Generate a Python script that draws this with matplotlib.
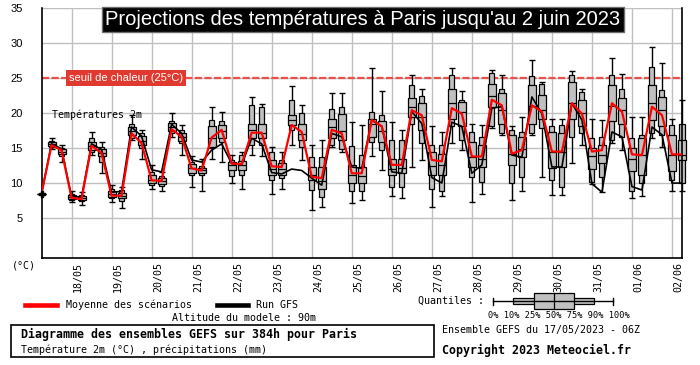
import numpy as np
import matplotlib.pyplot as plt
from matplotlib.patches import Rectangle
from matplotlib.lines import Line2D
from matplotlib.transforms import ScaledTranslation, blended_transform_factory

# GEFS run 17/05/2023 06Z, one step every 6 h (0 .. 384 h)
hours = np.arange(65) * 6

t_min = [8.5, 14.9, 13.0, 7.3, 6.8, 14.0, 11.5, 7.3, 6.5, 16.1, 13.5, 9.1, 8.8, 16.6, 14.0, 9.5,
         8.8, 13.5, 13.0, 10.0, 9.2, 14.0, 13.8, 8.5, 9.2, 15.4, 13.3, 6.1, 6.6, 15.2, 14.5, 7.1,
         7.6, 13.8, 11.9, 8.1, 7.8, 12.3, 13.3, 6.6, 8.1, 15.7, 14.7, 7.3, 8.5, 17.8, 16.9, 7.6,
         8.9, 16.8, 10.9, 8.3, 8.3, 12.8, 15.4, 9.9, 8.7, 15.7, 14.7, 7.8, 8.1, 16.5, 15.2, 8.8, 8.8]
t_p10 = [8.5, 15.1, 13.8, 7.6, 7.4, 14.5, 13.0, 7.8, 7.5, 16.5, 15.0, 9.7, 9.6, 17.1, 15.7, 11.1,
         11.1, 15.0, 15.9, 11.0, 11.1, 15.4, 15.4, 10.4, 10.7, 17.6, 15.2, 9.0, 8.0, 15.4, 14.9, 8.8,
         8.8, 15.9, 14.7, 9.5, 9.5, 18.5, 15.7, 9.2, 8.8, 18.1, 16.1, 10.9, 10.2, 18.1, 17.1, 10.0,
         10.9, 17.1, 17.8, 10.4, 9.5, 16.6, 17.1, 10.2, 10.9, 16.1, 16.6, 8.8, 10.0, 17.1, 16.9, 10.4, 10.0]
t_p25 = [8.5, 15.3, 14.2, 7.7, 7.6, 14.7, 13.9, 8.0, 7.8, 16.8, 15.4, 10.0, 9.9, 17.5, 16.0, 11.5,
         11.4, 15.2, 16.5, 11.8, 11.8, 16.5, 16.5, 11.1, 11.2, 18.3, 16.1, 10.4, 9.2, 16.4, 16.1, 10.0,
         10.0, 16.6, 15.9, 11.1, 11.4, 19.5, 17.6, 11.1, 11.1, 19.2, 18.1, 12.3, 12.3, 20.9, 18.5, 12.6,
         13.7, 18.5, 19.2, 12.1, 12.3, 19.2, 18.1, 12.0, 12.8, 18.8, 18.5, 11.7, 11.1, 19.0, 18.1, 11.7, 13.3]
t_p50 = [8.5, 15.6, 14.5, 8.0, 7.8, 15.3, 14.3, 8.4, 8.2, 17.5, 16.0, 10.5, 10.3, 18.0, 16.6, 12.2,
         11.8, 16.4, 17.5, 12.6, 12.6, 17.6, 17.2, 12.0, 12.0, 19.0, 17.0, 11.2, 10.3, 18.0, 17.5, 11.2,
         11.0, 18.4, 17.5, 12.0, 12.2, 20.8, 19.5, 12.5, 12.6, 21.5, 20.2, 13.7, 13.5, 22.5, 20.5, 14.2,
         14.8, 21.0, 20.5, 14.5, 14.5, 21.5, 20.0, 13.8, 14.0, 21.0, 20.5, 13.5, 14.0, 21.5, 20.5, 14.0, 14.0]
t_p75 = [8.5, 15.9, 14.8, 8.3, 8.1, 15.9, 14.8, 8.9, 8.6, 18.0, 16.7, 11.2, 10.7, 18.6, 17.2, 12.7,
         12.2, 18.1, 18.3, 13.0, 13.2, 18.4, 18.5, 13.3, 12.8, 19.7, 18.5, 12.3, 12.3, 19.2, 19.9, 12.6,
         12.3, 19.2, 18.8, 13.5, 13.5, 22.1, 21.4, 14.5, 14.2, 23.5, 21.6, 15.9, 15.4, 24.2, 22.8, 16.9,
         16.6, 24.0, 22.6, 17.3, 17.1, 24.5, 21.9, 15.0, 15.4, 24.0, 22.1, 15.0, 16.4, 24.0, 22.3, 16.9, 16.1]
t_p90 = [8.5, 16.0, 15.0, 8.5, 8.3, 16.5, 15.2, 9.2, 9.0, 18.4, 17.1, 11.6, 11.0, 18.9, 17.6, 13.0,
         12.4, 19.0, 18.8, 13.3, 14.0, 21.1, 20.8, 14.5, 13.3, 21.9, 20.0, 13.7, 13.7, 20.6, 20.9, 15.3,
         14.0, 20.2, 19.7, 16.1, 16.1, 24.0, 22.5, 15.4, 15.4, 25.4, 21.9, 17.3, 16.6, 25.7, 23.5, 17.6,
         17.3, 25.3, 24.2, 18.1, 18.3, 25.4, 23.0, 16.4, 16.6, 25.4, 23.5, 16.4, 16.8, 26.6, 23.3, 18.3, 18.5]
t_max = [8.5, 16.4, 15.4, 8.8, 8.7, 17.3, 15.9, 9.7, 9.4, 19.7, 17.6, 12.6, 11.6, 20.0, 18.3, 13.8,
         13.5, 20.9, 20.2, 14.0, 14.5, 22.3, 21.3, 15.2, 14.5, 23.8, 21.1, 15.4, 16.1, 22.8, 22.8, 18.7,
         18.3, 26.4, 23.1, 18.7, 17.6, 25.4, 23.5, 18.1, 17.3, 26.4, 23.1, 18.5, 18.3, 26.1, 25.4, 18.1,
         19.5, 27.6, 24.4, 19.2, 19.2, 26.0, 23.5, 19.2, 19.0, 27.8, 25.6, 19.5, 19.5, 29.5, 27.1, 19.2, 21.9]
t_mean = [8.5, 15.4, 14.7, 7.9, 7.7, 15.3, 14.3, 8.2, 8.2, 17.1, 15.7, 10.4, 10.3, 17.7, 16.6, 12.1,
          11.8, 16.5, 17.6, 12.8, 12.7, 17.2, 17.2, 12.4, 12.3, 18.3, 17.3, 10.9, 10.7, 17.6, 17.1, 11.4,
          11.4, 19.0, 18.1, 12.6, 12.6, 20.4, 19.7, 13.3, 13.1, 20.7, 19.9, 13.8, 13.8, 21.9, 21.1, 14.2,
          14.7, 21.1, 20.2, 14.5, 14.5, 21.4, 19.9, 14.5, 14.7, 21.4, 20.2, 14.1, 14.0, 20.9, 19.7, 14.1, 14.1]
t_gfs = [8.5, 15.6, 14.9, 8.1, 8.0, 15.6, 14.8, 8.7, 8.8, 18.0, 16.7, 11.9, 11.6, 18.4, 17.1, 13.3,
         13.0, 14.7, 15.6, 12.8, 12.6, 16.4, 15.6, 11.5, 11.3, 12.0, 11.8, 10.7, 9.7, 17.1, 16.6, 12.3,
         12.1, 19.0, 18.1, 11.6, 11.4, 20.2, 18.5, 10.8, 10.0, 18.7, 18.1, 11.4, 12.6, 20.7, 20.9, 14.0,
         13.7, 22.3, 19.9, 12.3, 12.3, 21.4, 19.0, 9.9, 8.7, 17.3, 16.6, 9.5, 9.0, 18.0, 16.9, 10.0, 10.0]

day_hours = np.arange(18, 385, 24)
day_labels = ['18/05', '19/05', '20/05', '21/05', '22/05', '23/05', '24/05', '25/05',
              '26/05', '27/05', '28/05', '29/05', '30/05', '31/05', '01/06', '02/06']

MONO = 'DejaVu Sans Mono'
SANS = 'Liberation Sans'
W, H = 700, 365


def fx(x):
    return x / W


def fy(y):
    return 1 - y / H


fig = plt.figure(figsize=(7, 3.65), dpi=100)
ax = fig.add_axes([fx(41.5), fy(258), (682 - 41.5) / W, (258 - 8) / H])
ax.set_xlim(0, 384)
ax.set_ylim(-0.7, 35)

# grid
ax.set_yticks([5, 10, 15, 20, 25, 30, 35])
ax.set_xticks(day_hours, day_labels)
ax.grid(True, color='#c0c0c0', lw=1.0)
ax.set_axisbelow(True)
ax.tick_params(axis='y', length=0, pad=13.5, labelsize=8)
ax.tick_params(axis='x', length=0, pad=3, labelsize=7.2, labelrotation=90)
for lab in ax.get_yticklabels():
    lab.set_fontfamily(SANS)
for lab in ax.get_xticklabels():
    lab.set_fontfamily(MONO)
    lab.set_transform(lab.get_transform() + ScaledTranslation(0.065, 0, fig.dpi_scale_trans))
ax.spines['top'].set_visible(False)
for s in ['left', 'bottom', 'right']:
    ax.spines[s].set_linewidth(1.2)

# heat threshold
ax.axhline(25, color='#e85149', lw=1.6, ls=(0, (3.2, 1.1)), zorder=1.5)
bt = blended_transform_factory(ax.transAxes, ax.transData)
ax.text(0.043, 25, 'seuil de chaleur (25°C)', transform=bt, color='white', fontsize=8,
        family=SANS, va='center', ha='left', zorder=6,
        bbox=dict(boxstyle='square,pad=0.25', fc='#e03a30', ec='none'))
ax.text(0.016, 19.7, 'Températures 2m', transform=bt, fontsize=7.2, family=MONO,
        va='center', ha='left')

# ensemble quantiles
t_min, t_p10, t_p25, t_p50, t_p75, t_p90, t_max = map(
    np.array, (t_min, t_p10, t_p25, t_p50, t_p75, t_p90, t_max))
ax.vlines(hours, t_min, t_max, color='black', lw=1.0, zorder=2, clip_on=False)
ax.hlines(t_min, hours - 1.8, hours + 1.8, color='black', lw=1.0, zorder=2, clip_on=False)
ax.hlines(t_max, hours - 1.8, hours + 1.8, color='black', lw=1.0, zorder=2, clip_on=False)
ax.bar(hours, t_p90 - t_p10, bottom=t_p10, width=3.0, color='#c0c0c0', edgecolor='black',
       lw=0.9, zorder=2.2, clip_on=False)
ax.bar(hours, t_p75 - t_p25, bottom=t_p25, width=4.8, color='#c0c0c0', edgecolor='black',
       lw=0.9, zorder=2.4, clip_on=False)
ax.hlines(t_p50, hours - 2.4, hours + 2.4, color='black', lw=0.9, zorder=2.5, clip_on=False)

ax.plot(hours, t_gfs, color='black', lw=1.2, zorder=4)
ax.plot(hours, t_mean, color='#ff0000', lw=1.6, zorder=5)
ax.plot(hours[:1], t_gfs[:1], marker='P', color='black', ms=5, zorder=5, clip_on=False)

# title
fig.text(fx(363), fy(19.5), "Projections des températures à Paris jusqu'au 2 juin 2023",
         color='white', fontsize=14.5, family=SANS, ha='center', va='center',
         bbox=dict(boxstyle='square,pad=0.15', fc='black', ec='#707070', lw=1))

fig.text(fx(12), fy(266), '(°C)', fontsize=7.2, family=MONO, va='center')

# legend under the chart
fig.add_artist(Line2D([fx(25), fx(57)], [fy(305)] * 2, color='#ff0000', lw=3.3,
                      transform=fig.transFigure))
fig.text(fx(66), fy(305), 'Moyenne des scénarios', fontsize=7.2, family=MONO, va='center')
fig.add_artist(Line2D([fx(217), fx(248)], [fy(305)] * 2, color='black', lw=3.3,
                      transform=fig.transFigure))
fig.text(fx(256), fy(305), 'Run GFS', fontsize=7.2, family=MONO, va='center')
fig.text(fx(172), fy(318), 'Altitude du modele : 90m', fontsize=7.2, family=MONO, va='center')

fig.text(fx(418), fy(300.5), 'Quantiles :', fontsize=7.2, family=MONO, va='center')
tf = fig.transFigure
fig.add_artist(Line2D([fx(493), fx(613)], [fy(301)] * 2, color='black', lw=1, transform=tf))
for xc in (493, 613):
    fig.add_artist(Line2D([fx(xc)] * 2, [fy(297.5), fy(304.5)], color='black', lw=1, transform=tf))
fig.add_artist(Rectangle((fx(513), fy(304)), (594 - 513) / W, 6 / H, fc='#c0c0c0', ec='black',
                         lw=0.9, transform=tf))
fig.add_artist(Rectangle((fx(534), fy(309)), 40 / W, 16 / H, fc='#c0c0c0', ec='black',
                         lw=0.9, transform=tf))
fig.add_artist(Line2D([fx(554)] * 2, [fy(293), fy(309)], color='black', lw=0.9, transform=tf))
fig.text(fx(488), fy(315.5), '0% 10% 25% 50% 75% 90% 100%', fontsize=6.2, family=MONO,
         va='center')

# info box
fig.add_artist(Rectangle((fx(11), fy(357)), (434 - 11) / W, (357 - 325) / H, fill=False,
                         ec='black', lw=1.2, transform=tf))
fig.text(fx(21), fy(334), 'Diagramme des ensembles GEFS sur 384h pour Paris', fontsize=8.4,
         family=MONO, weight='bold', va='center')
fig.text(fx(21), fy(350), 'Température 2m (°C) , précipitations (mm)', fontsize=7.2,
         family=MONO, va='center')
fig.text(fx(442), fy(330), 'Ensemble GEFS du 17/05/2023 - 06Z', fontsize=7.2, family=MONO,
         va='center')
fig.text(fx(442), fy(350), 'Copyright 2023 Meteociel.fr', fontsize=8.4, family=MONO,
         weight='bold', va='center')

fig.savefig('out.png', dpi=100)
